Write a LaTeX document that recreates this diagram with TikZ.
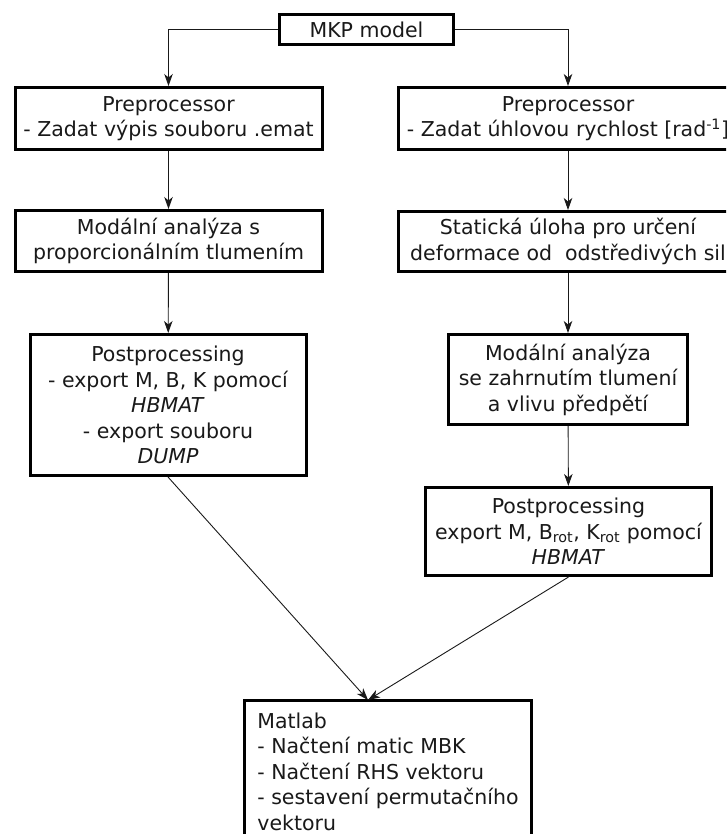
\documentclass[tikz,border=0pt]{standalone}
\usepackage{fontspec}
\setmainfont{DejaVu Sans}
\usetikzlibrary{arrows.meta}
\tikzset{
  blok/.style={draw, line width=3pt, align=center, inner sep=0pt, text=black!90,
    font=\fontsize{20.5}{25.5}\selectfont},
  sipka/.style={-{Stealth[length=12pt,width=8.5pt,inset=3.5pt]}, line width=0.9pt, draw=black!90},
}
\begin{document}
\begin{tikzpicture}[x=1pt,y=-1pt]
\clip (0,0) rectangle (726,834);
\node[blok, minimum width=174pt, minimum height=30pt] (mkp) at (366.5,29.5) {MKP model};
\node[blok, minimum width=307pt, minimum height=62pt] (preL) at (168.5,118.5) {Preprocessor\\- Zadat výpis souboru .emat};
\node[blok, minimum width=339pt, minimum height=62pt] (preR) at (568,118.5) {Preprocessor\\- Zadat úhlovou rychlost [rad\textsuperscript{-1}]};
\node[blok, minimum width=307pt, minimum height=61pt] (modL) at (168.5,241) {Modální analýza s\\proporcionálním tlumením};
\node[blok, minimum width=339pt, minimum height=60pt] (statR) at (568,241.5) {Statická úloha pro určení\\deformace od \ odstředivých sil};
\node[blok, minimum width=276pt, minimum height=141pt] (postL) at (168,405) {Postprocessing\\- export M, B, K pomocí\\\textit{HBMAT}\\- export souboru\\\textit{DUMP}};
\node[blok, minimum width=239pt, minimum height=90pt] (modR) at (568,379.5) {Modální analýza\\se zahrnutím tlumení\\a vlivu předpětí};
\node[blok, minimum width=286pt, minimum height=88pt] (postR) at (568.5,531.5) {Postprocessing\\export M, B\textsubscript{rot}, K\textsubscript{rot} pomocí\\\textit{HBMAT}};
\node[blok, align=left, minimum width=287pt, minimum height=143pt] (matlab) at (388,771.5) {Matlab\\- Načtení matic MBK\\- Načtení RHS vektoru\\- sestavení permutačního\\vektoru};
\coordinate (meet) at (368,700);
% spojnice
\draw[sipka] (mkp.west) -| (preL.north);
\draw[sipka] (mkp.east) -| (preR.north);
\draw[sipka] (preL) -- (modL);
\draw[sipka] (modL) -- (postL);
\draw[sipka] (preR) -- (statR);
\draw[sipka] (statR) -- (modR);
\draw[sipka] (modR) -- (postR);
\draw[sipka] (postL.south) -- (meet);
\draw[sipka] (postR.south) -- (meet);
\end{tikzpicture}
\end{document}
